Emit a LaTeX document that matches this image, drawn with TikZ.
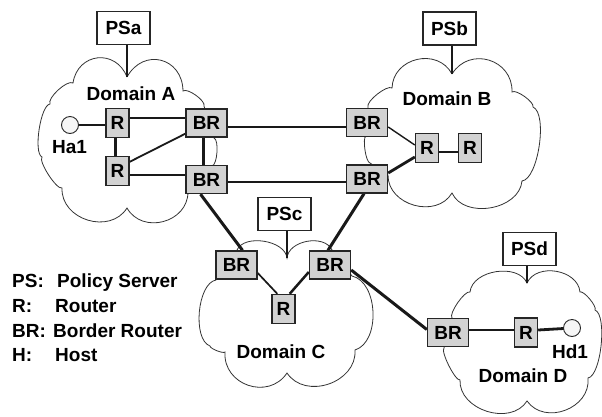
\documentclass[tikz,border=0pt]{standalone}
\usepackage{fontspec}
\setmainfont{Liberation Sans}
\usetikzlibrary{calc}
\pgfdeclarelayer{bg}
\pgfsetlayers{bg,main}

\definecolor{boxgray}{HTML}{D2D2D2}
\definecolor{hostfill}{HTML}{F6F6F6}

\begin{document}
\begin{tikzpicture}[x=1pt,y=-1pt,
  txt/.style={font=\bfseries\fontsize{19}{22}\selectfont, inner sep=0pt},
  boxbase/.style={txt, draw=black!85, line width=1.4pt},
  brbox/.style={boxbase, fill=boxgray, minimum width=41pt, minimum height=28pt},
  rbox/.style={boxbase, fill=boxgray, minimum width=23pt, minimum height=29pt},
  psbox/.style={boxbase, fill=white, minimum width=53pt, minimum height=33pt},
  host/.style={circle, draw=black!85, line width=0.9pt, fill=hostfill, minimum size=17pt, inner sep=0pt},
  cloudline/.style={draw=black!80, line width=0.8pt},
  pf/.style={out=75, in=105, relative, looseness=#1},
  link/.style={line width=#1, draw=black!90},
]
\useasboundingbox (0,0) rectangle (602,416);

% policy servers
\node[psbox] (psA) at (123.5,28) {PSa};
\node[psbox] (psB) at (449.5,28.5) {PSb};
\node[psbox] (psC) at (284.5,214) {PSc};
\node[psbox] (psD) at (529.5,249) {PSd};

% domain A
\node[rbox]  (rA1)  at (117.5,123) {R};
\node[rbox]  (rA2)  at (117.5,171) {R};
\node[brbox] (brA1) at (206.5,123) {BR};
\node[brbox] (brA2) at (206.5,179.5) {BR};
\node[host]  (ha1)  at (70,125) {};

% domain B
\node[brbox] (brB1) at (367,122.5) {BR};
\node[brbox] (brB2) at (367,179) {BR};
\node[rbox]  (rB1)  at (427,148) {R};
\node[rbox]  (rB2)  at (470,148) {R};

% domain C
\node[brbox] (brC1) at (236.5,265) {BR};
\node[brbox] (brC2) at (330,265) {BR};
\node[rbox]  (rC)   at (283.5,309) {R};

% domain D
\node[brbox] (brD) at (448,332.5) {BR};
\node[rbox]  (rD)  at (526,332.5) {R};
\node[host]  (hd1) at (572,328) {};

% labels
\node[txt, anchor=base] (lblA) at (131,100) {Domain A};
\node[txt, anchor=base] (lblB) at (447,105) {Domain B};
\node[txt, anchor=base] (lblC) at (281,358) {Domain C};
\node[txt, anchor=base] (lblD) at (523,382) {Domain D};
\node[txt, anchor=base] (lblHa) at (69.5,153) {Ha1};
\node[txt, anchor=base] (lblHd) at (570,358) {Hd1};

% legend
\node[txt, anchor=base west] (kPS) at (12,287) {PS:};
\node[txt, anchor=base west] (vPS) at (57,287) {Policy Server};
\node[txt, anchor=base west] (kR)  at (12,312) {R:};
\node[txt, anchor=base west] (vR)  at (55,312) {Router};
\node[txt, anchor=base west] (kBR) at (12,337) {BR:};
\node[txt, anchor=base west] (vBR) at (53,337) {Border Router};
\node[txt, anchor=base west] (kH)  at (12,361) {H:};
\node[txt, anchor=base west] (vH)  at (55,361) {Host};

% notches where the policy servers attach
\coordinate (nA) at (127,77);
\coordinate (nB) at (452,74);
\coordinate (nC) at (287,258);
\coordinate (nD) at (527,283);

\begin{pgfonlayer}{bg}
  % domain clouds, traced clockwise
  \draw[cloudline] (nA) to[pf=1.5] (183,91) to[pf=0.55] (204,106) -- (214,138)
    to[pf=0.5] (212,166) -- (188,192) to[pf=1.25] (127,208) to[pf=1.2] (62,188)
    to[pf=0.4] (42,157) to[pf=0.46] (50,104) to[pf=0.55] (73,83) to[pf=1.45] (nA);
  \draw[cloudline] (nB) to[pf=1.35] (512,92) to[pf=0.5] (533,107) to[pf=0.56] (522,181)
    to[pf=1.05] (452,193) to[pf=1.17] (388,175) -- (370,163) to[pf=0.4] (366,136)
    -- (368,107) to[pf=0.5] (392,88) to[pf=1.27] (nB);
  \draw[cloudline] (237,250) to[pf=0.9] (nC) to[pf=1.0] (332,250) -- (352,276)
    to[pf=0.93] (355,350) to[pf=1.17] (287,373) to[pf=1.3] (225,352)
    to[pf=0.4] (210,346) to[pf=0.73] (216,280) -- (237,250);
  \draw[cloudline] (452,318) to[pf=0.45] (470,292) to[pf=0.98] (nD) to[pf=1.08] (580,292)
    to[pf=0.45] (595,310) to[pf=0.5] (588,378) to[pf=1.2] (527,401) to[pf=1.1] (460,380)
    to[pf=0.35] (444,348) -- (452,318);

  % policy server attachments
  \draw[link=2.2pt] (nA) -- (nA |- psA.south);
  \draw[link=2.2pt] (nB) -- (nB |- psB.south);
  \draw[link=2.2pt] (nC) -- (nC |- psC.south);
  \draw[link=2.2pt] (nD) -- (nD |- psD.south);

  % links inside domain A
  \draw[link=2pt] (ha1.east) -- (ha1.east -| rA1.west);
  \draw[link=2.8pt] ($(rA1.east)+(0,-5)$) -- ($(brA1.west)+(0,-5)$);
  \draw[link=2.5pt] ($(rA1.south)+(-2,0)$) -- ($(rA2.north)+(-2,0)$);
  \draw[link=1.8pt] ($(rA2.north east)+(0,6)$) -- ($(brA1.south west)+(0,-4)$);
  \draw[link=2.8pt] ($(rA2.east)+(0,4)$) -- ($(brA2.west)+(0,-4.5)$);
  \draw[link=2.8pt] ($(brA1.south)+(-3,0)$) -- ($(brA2.north)+(-3,0)$);

  % inter-domain links A-B
  \draw[link=2.8pt] ($(brA1.east)+(0,4)$) -- ($(brB1.west)+(0,4.5)$);
  \draw[link=2.8pt] ($(brA2.east)+(0,2.5)$) -- ($(brB2.west)+(0,3)$);

  % links inside domain B
  \draw[link=1.4pt] ($(brB1.east)+(0,4.5)$) -- ($(rB1.west)+(0,-3)$);
  \draw[link=2.8pt] ($(brB2.east)+(0,-6)$) -- ($(rB1.west)+(0,9)$);
  \draw[link=2.5pt] ($(rB1.east)+(0,4)$) -- ($(rB2.west)+(0,4)$);

  % links towards domain C
  \draw[link=3pt] ($(brA2.south)+(-6,0)$) -- ($(brC1.north)+(6,0)$);
  \draw[link=3pt] ($(brB2.south)+(-3,0)$) -- ($(brC2.north)+(-2,0)$);
  \draw[link=1.7pt] ($(brC1.east)+(0,8)$) -- ($(rC.north west)+(6,0)$);
  \draw[link=2.5pt] ($(brC2.west)+(0,7)$) -- ($(rC.north east)+(-6,0)$);

  % link C-D and inside domain D
  \draw[link=3pt] ($(brC2.east)+(0,5)$) -- ($(brD.west)+(0,-3)$);
  \draw[link=2.8pt] ($(brD.east)+(0,-2.5)$) -- ($(rD.west)+(0,-2.5)$);
  \draw[link=2.8pt] ($(rD.east)+(0,-2.5)$) -- (hd1.center);
\end{pgfonlayer}
\end{tikzpicture}
\end{document}
